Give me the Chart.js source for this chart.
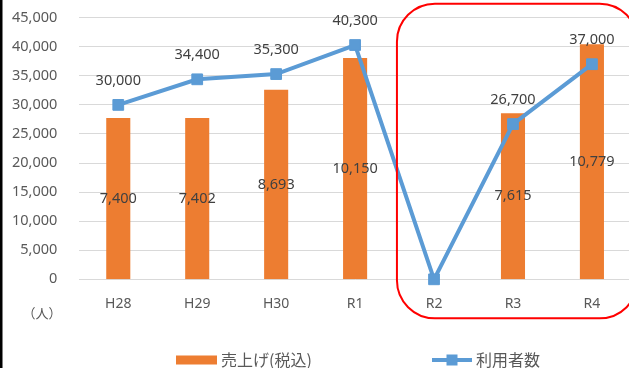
<!DOCTYPE html>
<html>
<head>
<meta charset="utf-8">
<script src="https://cdn.jsdelivr.net/npm/chart.js@4"></script>
<style>
  html, body { margin: 0; padding: 0; background: #fff; overflow: hidden; }
  #wrap { width: 629px; height: 368px; overflow: hidden; position: relative; }
  canvas { display: block; }
</style>
</head>
<body>
<div id="wrap"><canvas id="chart" width="640" height="368"></canvas></div>
<script>
// 年度
const years = ['H28', 'H29', 'H30', 'R1', 'R2', 'R3', 'R4'];
// 売上げ(税込) - 非表示の第2軸
const sales = [7400, 7402, 8693, 10150, null, 7615, 10779];
// 利用者数 (人)
const users = [30000, 34400, 35300, 40300, 0, 26700, 37000];
const yTicks = { min: 0, max: 45000, step: 5000 };
const salesAxisMax = 12000;

const NUM_FONT = '"Noto Sans", "Open Sans", sans-serif';
const JP_FONT = '"Noto Sans CJK JP", "Noto Sans", sans-serif';
const fmt = v => v.toLocaleString('en-US');

const extras = {
  id: 'extras',
  afterDatasetsDraw(chart) {
    const ctx = chart.ctx;
    const area = chart.chartArea;
    const x = chart.scales.x;

    // value labels
    ctx.save();
    ctx.font = '14.5px ' + NUM_FONT;
    ctx.fillStyle = '#404040';
    ctx.textAlign = 'center';
    ctx.textBaseline = 'middle';
    chart.getDatasetMeta(0).data.forEach((bar, i) => {
      if (sales[i] == null) return;
      ctx.fillText(fmt(sales[i]), bar.x, (bar.y + bar.base) / 2);
    });
    chart.getDatasetMeta(1).data.forEach((pt, i) => {
      if (!users[i]) return;
      ctx.fillText(fmt(users[i]), pt.x, pt.y - 24);
    });
    ctx.restore();

    // red rounded box round R2..R4
    const step = x.getPixelForValue(1) - x.getPixelForValue(0);
    const left = x.getPixelForValue(4) - step * 0.47;
    const right = x.getPixelForValue(6) + step * 0.58;
    const top = area.top - 14, bottom = area.bottom + 39;
    ctx.save();
    ctx.strokeStyle = '#ff0000';
    ctx.lineWidth = 2;
    ctx.beginPath();
    ctx.roundRect(left, top, right - left, bottom - top, 38);
    ctx.stroke();
    ctx.restore();
  },
  afterDraw(chart) {
    const ctx = chart.ctx;
    ctx.save();
    // left frame line
    ctx.fillStyle = '#000';
    ctx.fillRect(0, 0, 2.5, 368);

    // unit
    ctx.font = '13px ' + JP_FONT;
    ctx.fillStyle = '#595959';
    ctx.textAlign = 'center';
    ctx.textBaseline = 'middle';
    ctx.fillText('（人）', 42, 313);

    // legend
    const ly = 360;
    ctx.fillStyle = '#ED7D31';
    ctx.fillRect(176, ly - 4.5, 41, 9);
    ctx.strokeStyle = '#5B9BD5';
    ctx.lineWidth = 4;
    ctx.beginPath();
    ctx.moveTo(432, ly);
    ctx.lineTo(472, ly);
    ctx.stroke();
    ctx.fillStyle = '#5B9BD5';
    ctx.fillRect(446.5, ly - 5.5, 11, 11);

    ctx.font = '16px ' + JP_FONT;
    ctx.fillStyle = '#595959';
    ctx.textAlign = 'left';
    ctx.fillText('売上げ(税込)', 221, ly);
    ctx.fillText('利用者数', 476, ly);
    ctx.restore();
  }
};

new Chart(document.getElementById('chart'), {
  data: {
    labels: years,
    datasets: [{
      type: 'bar',
      label: '売上げ(税込)',
      data: sales,
      yAxisID: 'y2',
      backgroundColor: '#ED7D31',
      barPercentage: 0.305,
      categoryPercentage: 1,
      order: 2
    }, {
      type: 'line',
      label: '利用者数',
      data: users,
      yAxisID: 'y',
      borderColor: '#5B9BD5',
      backgroundColor: '#5B9BD5',
      borderWidth: 4,
      pointStyle: 'rect',
      pointRadius: 7.6,
      pointBorderWidth: 1,
      pointBackgroundColor: '#5B9BD5',
      tension: 0,
      clip: false,
      order: 1
    }]
  },
  options: {
    responsive: false,
    animation: false,
    layout: { padding: { left: 0, top: 17.7, right: 8.2, bottom: 0 } },
    plugins: { legend: { display: false }, tooltip: { enabled: false } },
    scales: {
      x: {
        offset: true,
        grid: { display: false },
        border: { display: false },
        ticks: { color: '#595959', font: { family: NUM_FONT, size: 14 }, padding: 8 },
        afterFit: s => { s.height = 88.7; }
      },
      y: {
        min: yTicks.min,
        max: yTicks.max,
        grid: { color: '#D9D9D9', lineWidth: 1, drawTicks: false },
        border: { display: false },
        ticks: {
          stepSize: yTicks.step,
          color: '#595959',
          padding: 21.5,
          font: { family: NUM_FONT, size: 14.5 },
          callback: v => fmt(v)
        },
        afterFit: s => {
          s.width = 78.8;
          s.paddingTop = 0;
          s.paddingBottom = 0;
        }
      },
      y2: {
        display: false,
        min: 0,
        max: salesAxisMax
      }
    }
  },
  plugins: [extras]
});
</script>
</body>
</html>
